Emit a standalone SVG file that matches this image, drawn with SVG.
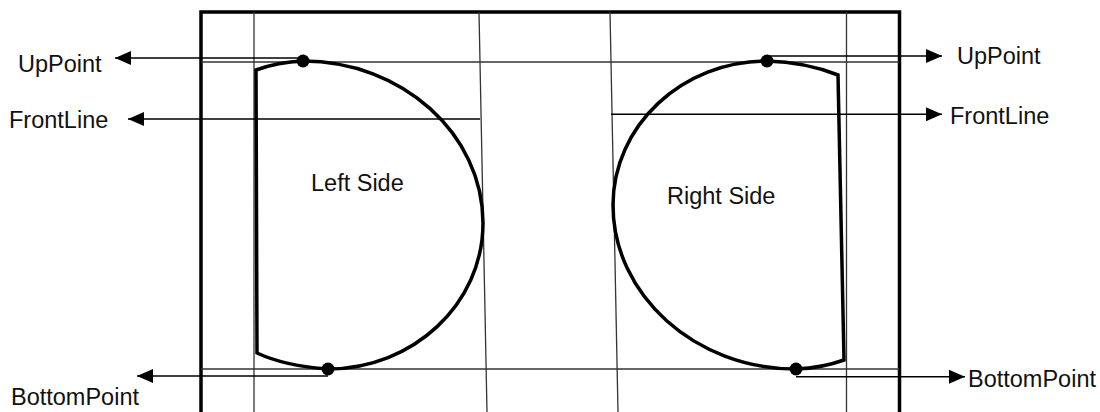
<svg xmlns="http://www.w3.org/2000/svg" width="1100" height="412" viewBox="0 0 1100 412">
<style>
.frame{fill:none;stroke:#000;stroke-width:3.5}
.guide{fill:none;stroke:#333;stroke-width:1.3}
.shape{fill:none;stroke:#000;stroke-width:3.5;stroke-linejoin:miter}
.arrow{fill:none;stroke:#000;stroke-width:1.6;marker-end:url(#ah)}
.dot{fill:#000}
text{font-family:"Liberation Sans",Arial,sans-serif;font-size:23.5px;fill:#111}
</style>
<defs>
<marker id="ah" markerUnits="userSpaceOnUse" markerWidth="17" markerHeight="15" refX="16" refY="7.5" orient="auto">
<path d="M0,0.5 L16,7.5 L0,14.5 z" fill="#000"/>
</marker>
</defs>
<rect width="1100" height="412" fill="#fff"/>
<g id="frame">
<path class="frame" d="M201,420 V12 H899.5 V420"/>
</g>
<g id="guides">
<line class="guide" x1="254" y1="12" x2="254" y2="412"/>
<line class="guide" x1="846.5" y1="12" x2="846.5" y2="412"/>
<line class="guide" x1="479" y1="12" x2="487" y2="412"/>
<line class="guide" x1="610" y1="12" x2="618" y2="412"/>
<line class="guide" x1="201" y1="62" x2="899" y2="62"/>
<line class="guide" x1="201" y1="369" x2="899" y2="369"/>
</g>
<g id="left-side">
<path class="shape" d="M257,353 L256,70 Q278,62 303,61 C402,61 483,134 483,223 C483,304 413,369 328,369 Q285,366 257,353 Z"/>
<text x="311" y="191">Left Side</text>
</g>
<g id="right-side">
<path class="shape" d="M844,360 L838,75 Q805,62 767,61 C682,61 613,126 613,205 C613,295 695,369 796,369 Q822,368 844,360 Z"/>
<text x="667" y="204">Right Side</text>
</g>
<g id="points">
<circle class="dot" cx="303" cy="61" r="6.5"/>
<circle class="dot" cx="328" cy="369" r="6.5"/>
<circle class="dot" cx="767" cy="61" r="6.5"/>
<circle class="dot" cx="796" cy="369" r="6.5"/>
</g>
<g id="connectors">
<line class="arrow" x1="300" y1="58" x2="115" y2="58"/>
<line class="arrow" x1="480" y1="119" x2="128" y2="119"/>
<line class="arrow" x1="328" y1="376" x2="137" y2="376"/>
<line class="arrow" x1="767" y1="56" x2="942" y2="56"/>
<line class="arrow" x1="611" y1="114.3" x2="942" y2="114.3"/>
<line class="arrow" x1="796" y1="376.7" x2="965" y2="376.7"/>
</g>
<g id="labels">
<text x="18" y="72">UpPoint</text>
<text x="9" y="128">FrontLine</text>
<text x="11" y="405">BottomPoint</text>
<text x="957" y="64">UpPoint</text>
<text x="950" y="124">FrontLine</text>
<text x="968" y="387">BottomPoint</text>
</g>
</svg>
